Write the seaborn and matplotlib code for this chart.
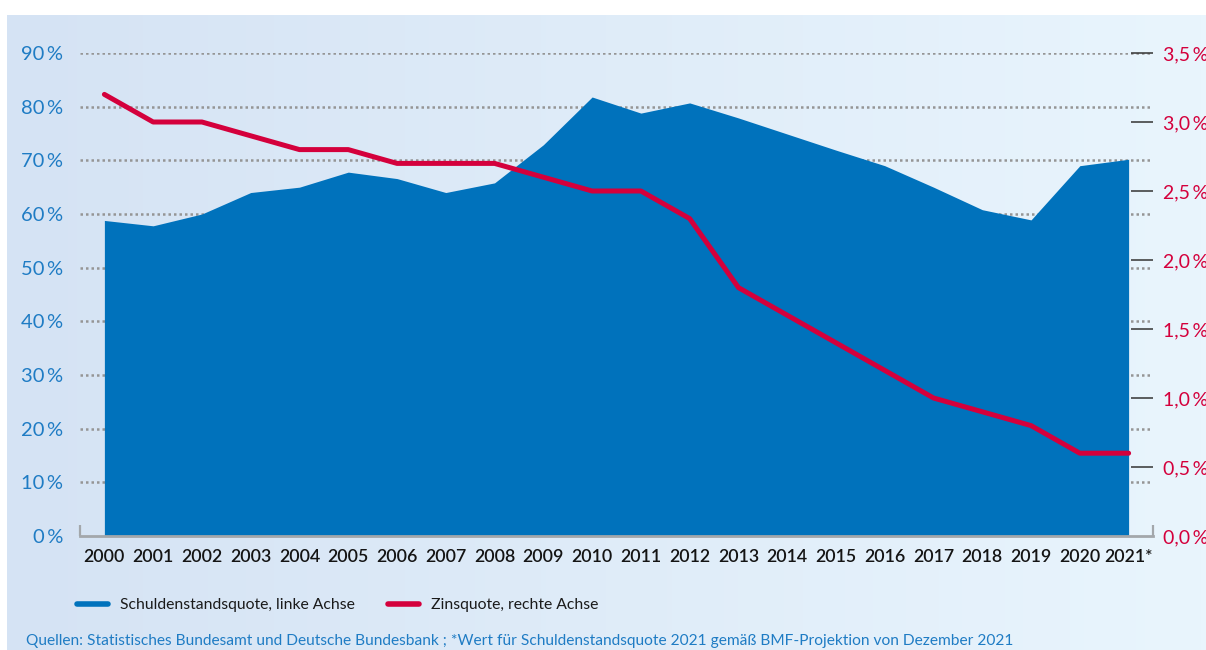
import numpy as np
import pandas as pd
import matplotlib
matplotlib.use("Agg")
import matplotlib.pyplot as plt
import seaborn as sns
from matplotlib.lines import Line2D
from matplotlib.colors import LinearSegmentedColormap

# ---------------- data ----------------
years = [str(y) for y in range(2000, 2021)] + ["2021*"]
debt_ratio = [58.8, 57.8, 60.0, 64.0, 65.0, 67.8, 66.6, 64.0, 65.8, 72.9, 81.8,
              78.8, 80.7, 77.9, 74.9, 71.9, 69.0, 65.0, 60.8, 58.9, 69.0, 70.2]
interest_ratio = [3.2, 3.0, 3.0, 2.9, 2.8, 2.8, 2.7, 2.7, 2.7, 2.6, 2.5,
                  2.5, 2.3, 1.8, 1.6, 1.4, 1.2, 1.0, 0.9, 0.8, 0.6, 0.6]
left_ticks = [0, 10, 20, 30, 40, 50, 60, 70, 80, 90]
left_labels = ["0\u2009%", "10\u2009%", "20\u2009%", "30\u2009%", "40\u2009%",
               "50\u2009%", "60\u2009%", "70\u2009%", "80\u2009%", "90\u2009%"]
right_ticks = [0.0, 0.5, 1.0, 1.5, 2.0, 2.5, 3.0, 3.5]
right_labels = ["0,0\u2009%", "0,5\u2009%", "1,0\u2009%", "1,5\u2009%",
                "2,0\u2009%", "2,5\u2009%", "3,0\u2009%", "3,5\u2009%"]
legend_labels = ["Schuldenstandsquote, linke Achse", "Zinsquote, rechte Achse"]
source_text = ("Quellen: Statistisches Bundesamt und Deutsche Bundesbank ; *Wert für "
               "Schuldenstandsquote 2021 gemäß BMF-Projektion von Dezember 2021")

# ---------------- style ----------------
BLUE_AREA = "#0072bc"
RED_LINE = "#d4003c"
BLUE_TEXT = "#1f7cc4"
GRID = "#959595"
AXIS_GRAY = "#a3a7ab"

sns.set_theme(style="white")
plt.rcParams["font.family"] = ["Lato", "DejaVu Sans"]

W, H = 1206, 650
fig = plt.figure(figsize=(W / 100, H / 100), dpi=100)
fig.patch.set_facecolor("white")

# gradient background panel
bg = fig.add_axes([7 / W, 0, 1 - 7 / W, (H - 15) / H], zorder=-10)
cmap = LinearSegmentedColormap.from_list("bg", ["#d5e3f4", "#e9f5fd"])
bg.imshow(np.linspace(0, 1, 256).reshape(1, -1), aspect="auto", cmap=cmap,
          extent=[0, 1, 0, 1])
bg.axis("off")

df = pd.DataFrame({"pos": np.arange(len(years)), "year": years,
                   "debt": debt_ratio, "interest": interest_ratio})

ax = fig.add_axes([80 / W, (H - 536) / H, (1153 - 80) / W, (536 - 53) / H])
ax.set_facecolor("none")

for t in left_ticks[1:]:
    ax.axhline(t, color=GRID, lw=1.8, ls=(0, (1, 1.2)), zorder=0)

ax.fill_between(df["pos"], df["debt"], color=BLUE_AREA, lw=0, zorder=1)

ax.set_xlim(-0.5, len(years) - 0.5)
ax.set_ylim(0, 90)
ax.set_xticks(df["pos"])
ax.set_xticklabels(years, fontsize=12.8, fontweight="semibold", color="#141414")
ax.set_xticks(np.arange(len(years) + 1) - 0.5, minor=True)
ax.tick_params(axis="x", which="major", length=0, pad=9)
ax.tick_params(axis="x", which="minor", direction="in", length=8, width=1.6,
               color=AXIS_GRAY, bottom=True)
ax.set_yticks(left_ticks)
ax.set_yticklabels(left_labels, fontsize=14.5, color=BLUE_TEXT)
ax.tick_params(axis="y", length=0, pad=12)
for s in ["top", "right", "left"]:
    ax.spines[s].set_visible(False)
ax.spines["bottom"].set_color(AXIS_GRAY)
ax.spines["bottom"].set_linewidth(2.0)
ax.set_xlabel("")
ax.set_ylabel("")

ax2 = ax.twinx()
sns.lineplot(data=df, x="pos", y="interest", ax=ax2, color=RED_LINE, lw=3.6,
             zorder=3, legend=False)
ax2.set_ylim(0, 3.5)
ax2.set_xlim(-0.5, len(years) - 0.5)
ax2.set_yticks(right_ticks)
ax2.set_yticklabels(right_labels, fontsize=14, color=RED_LINE)
ax2.tick_params(axis="y", direction="in", length=16, width=1.1, color="#333333",
                pad=7, right=True)
ax2.yaxis.get_major_ticks()[0].tick2line.set_visible(False)
for s in ["top", "right", "left", "bottom"]:
    ax2.spines[s].set_visible(False)
ax2.set_xlabel("")
ax2.set_ylabel("")

handles = [Line2D([], [], color=BLUE_AREA, lw=4),
           Line2D([], [], color=RED_LINE, lw=4)]
fig.legend(handles, legend_labels, loc="center left",
           bbox_to_anchor=(77 / W, 1 - 605 / H), ncol=2, frameon=False,
           fontsize=11.3, handlelength=2.0, handletextpad=0.75, columnspacing=2.1,
           borderpad=0, borderaxespad=0, labelcolor="#1a1a1a")

fig.text(26 / W, 1 - 645.5 / H, source_text, fontsize=11.2, color=BLUE_TEXT,
         ha="left", va="baseline")

fig.savefig("out.png", dpi=100)
